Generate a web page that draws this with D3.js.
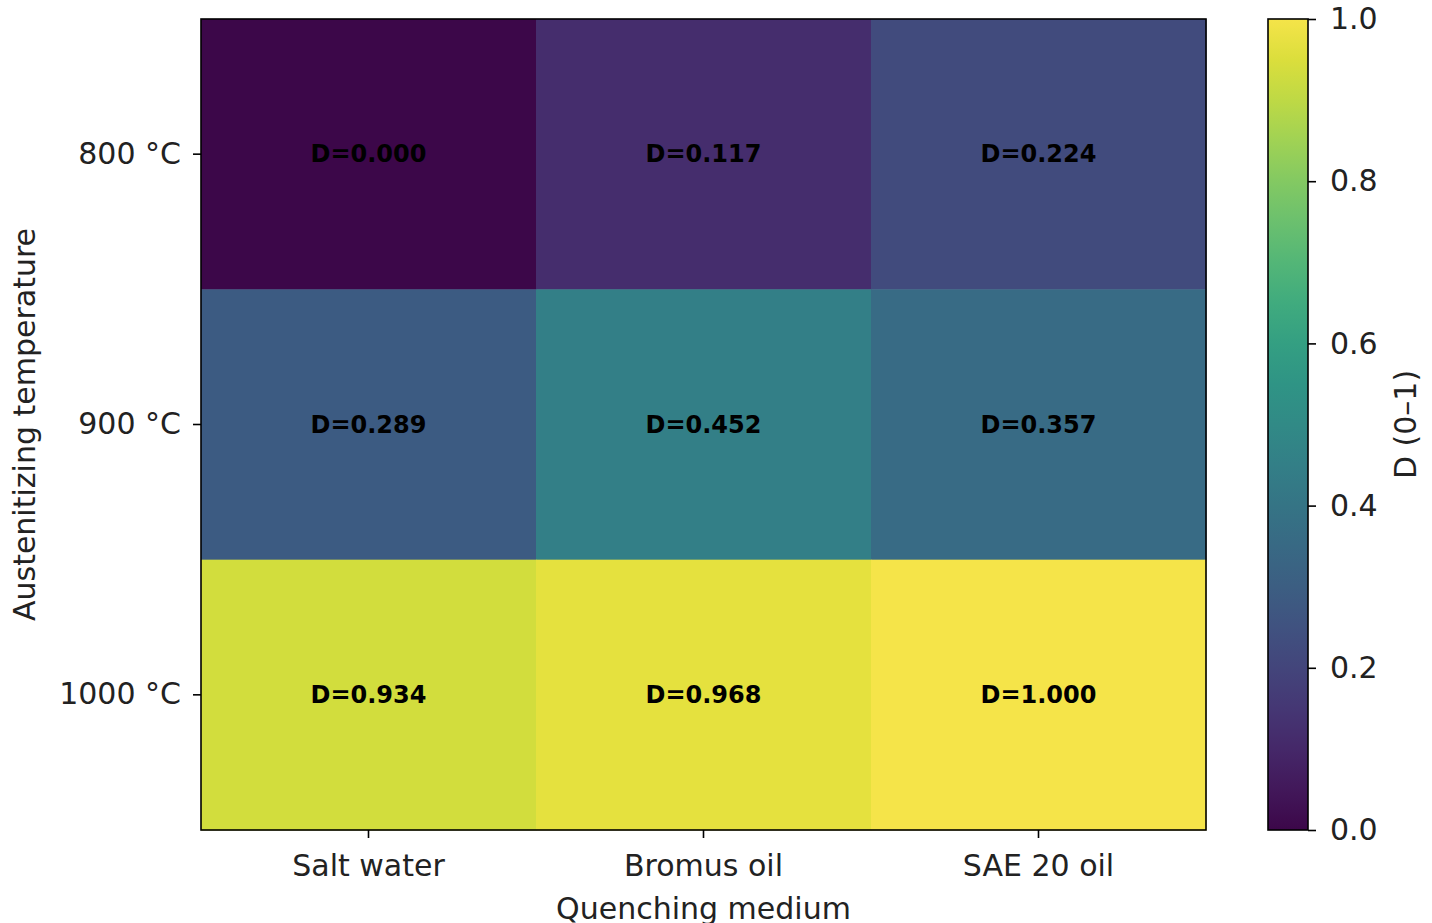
<!DOCTYPE html>
<html><head><meta charset="utf-8">
<script src="https://cdn.jsdelivr.net/npm/d3@7"></script>
<style>body{margin:0;background:#fff;} svg{display:block;} text{font-family:"DejaVu Sans",sans-serif;}</style>
</head><body><svg id="c" width="1432" height="923"></svg>
<script>
const media = ["Salt water", "Bromus oil", "SAE 20 oil"];
const temps = ["800 °C", "900 °C", "1000 °C"];
const values = [
  [0.000, 0.117, 0.224],
  [0.289, 0.452, 0.357],
  [0.934, 0.968, 1.000]
];
const cbTicks = [0.0, 0.2, 0.4, 0.6, 0.8, 1.0];

const svg = d3.select("#c");
const L = 201, R = 1206, T = 19, B = 830;
const x = d3.scaleBand().domain(media).range([L, R]);
const y = d3.scaleBand().domain(temps).range([T, B]);
// viridis, slightly desaturated as in the reference rendering
const SAT = 0.8;
const muted = t => {
  const c = d3.rgb(d3.interpolateViridis(t));
  const g = 0.299*c.r + 0.587*c.g + 0.114*c.b;
  return d3.rgb(SAT*c.r + (1-SAT)*g, SAT*c.g + (1-SAT)*g, SAT*c.b + (1-SAT)*g).formatHex();
};
const color = d3.scaleSequential(muted).domain([0, 1]);

const cells = [];
temps.forEach((t, i) => media.forEach((m, j) => cells.push({t, m, v: values[i][j]})));

svg.append("g").selectAll("rect").data(cells).join("rect")
  .attr("x", d => x(d.m)).attr("y", d => y(d.t))
  .attr("width", x.bandwidth()+0.5).attr("height", y.bandwidth()+0.5)
  .attr("fill", d => color(d.v));
svg.append("g").selectAll("text").data(cells).join("text")
  .attr("x", d => x(d.m) + x.bandwidth()/2).attr("y", d => y(d.t) + y.bandwidth()/2)
  .attr("text-anchor", "middle").attr("dominant-baseline", "central")
  .attr("font-weight", "bold").attr("font-size", 24).attr("fill", "#000")
  .text(d => "D=" + d.v.toFixed(3));

svg.append("rect").attr("x", L).attr("y", T).attr("width", R-L).attr("height", B-T)
  .attr("fill", "none").attr("stroke", "#000").attr("stroke-width", 1.6);

const xa = svg.append("g").attr("transform", `translate(0,${B})`)
  .call(d3.axisBottom(x).tickSize(8).tickPadding(17));
const ya = svg.append("g").attr("transform", `translate(${L},0)`)
  .call(d3.axisLeft(y).tickSize(8).tickPadding(12));
[xa, ya].forEach(a => {
  a.select(".domain").remove();
  a.selectAll("line").attr("stroke", "#000").attr("stroke-width", 1.6);
  a.selectAll("text").attr("font-size", 30).attr("fill", "#222").style("font-family", "DejaVu Sans");
});
xa.selectAll("text").attr("dy", "0.71em");

svg.append("text").attr("x", (L+R)/2).attr("y", 919).attr("text-anchor", "middle")
  .attr("font-size", 30).attr("fill", "#222").text("Quenching medium");
svg.append("text").attr("transform", `translate(35,${(T+B)/2}) rotate(-90)`)
  .attr("text-anchor", "middle").attr("font-size", 30).attr("fill", "#222")
  .text("Austenitizing temperature");

// colorbar
const cx0 = 1268, cx1 = 1308;
const cy = d3.scaleLinear().domain([0, 1]).range([B, T]);
const defs = svg.append("defs");
const grad = defs.append("linearGradient").attr("id", "vg")
  .attr("x1", 0).attr("y1", 1).attr("x2", 0).attr("y2", 0);
d3.range(0, 1.0001, 0.05).forEach(s => grad.append("stop").attr("offset", s).attr("stop-color", color(s)));
svg.append("rect").attr("x", cx0).attr("y", T).attr("width", cx1-cx0).attr("height", B-T)
  .attr("fill", "url(#vg)").attr("stroke", "#000").attr("stroke-width", 1.6);
const ca = svg.append("g").attr("transform", `translate(${cx1},0)`)
  .call(d3.axisRight(cy).tickValues(cbTicks).tickFormat(d3.format(".1f")).tickSize(8).tickPadding(14));
ca.select(".domain").remove();
ca.selectAll("line").attr("stroke", "#000").attr("stroke-width", 1.6);
ca.selectAll("text").attr("font-size", 30).attr("fill", "#222").style("font-family", "DejaVu Sans");
svg.append("text").attr("transform", `translate(1416,${(T+B)/2}) rotate(-90)`)
  .attr("text-anchor", "middle").attr("font-size", 30).attr("fill", "#222").text("D (0–1)");
</script></body></html>
